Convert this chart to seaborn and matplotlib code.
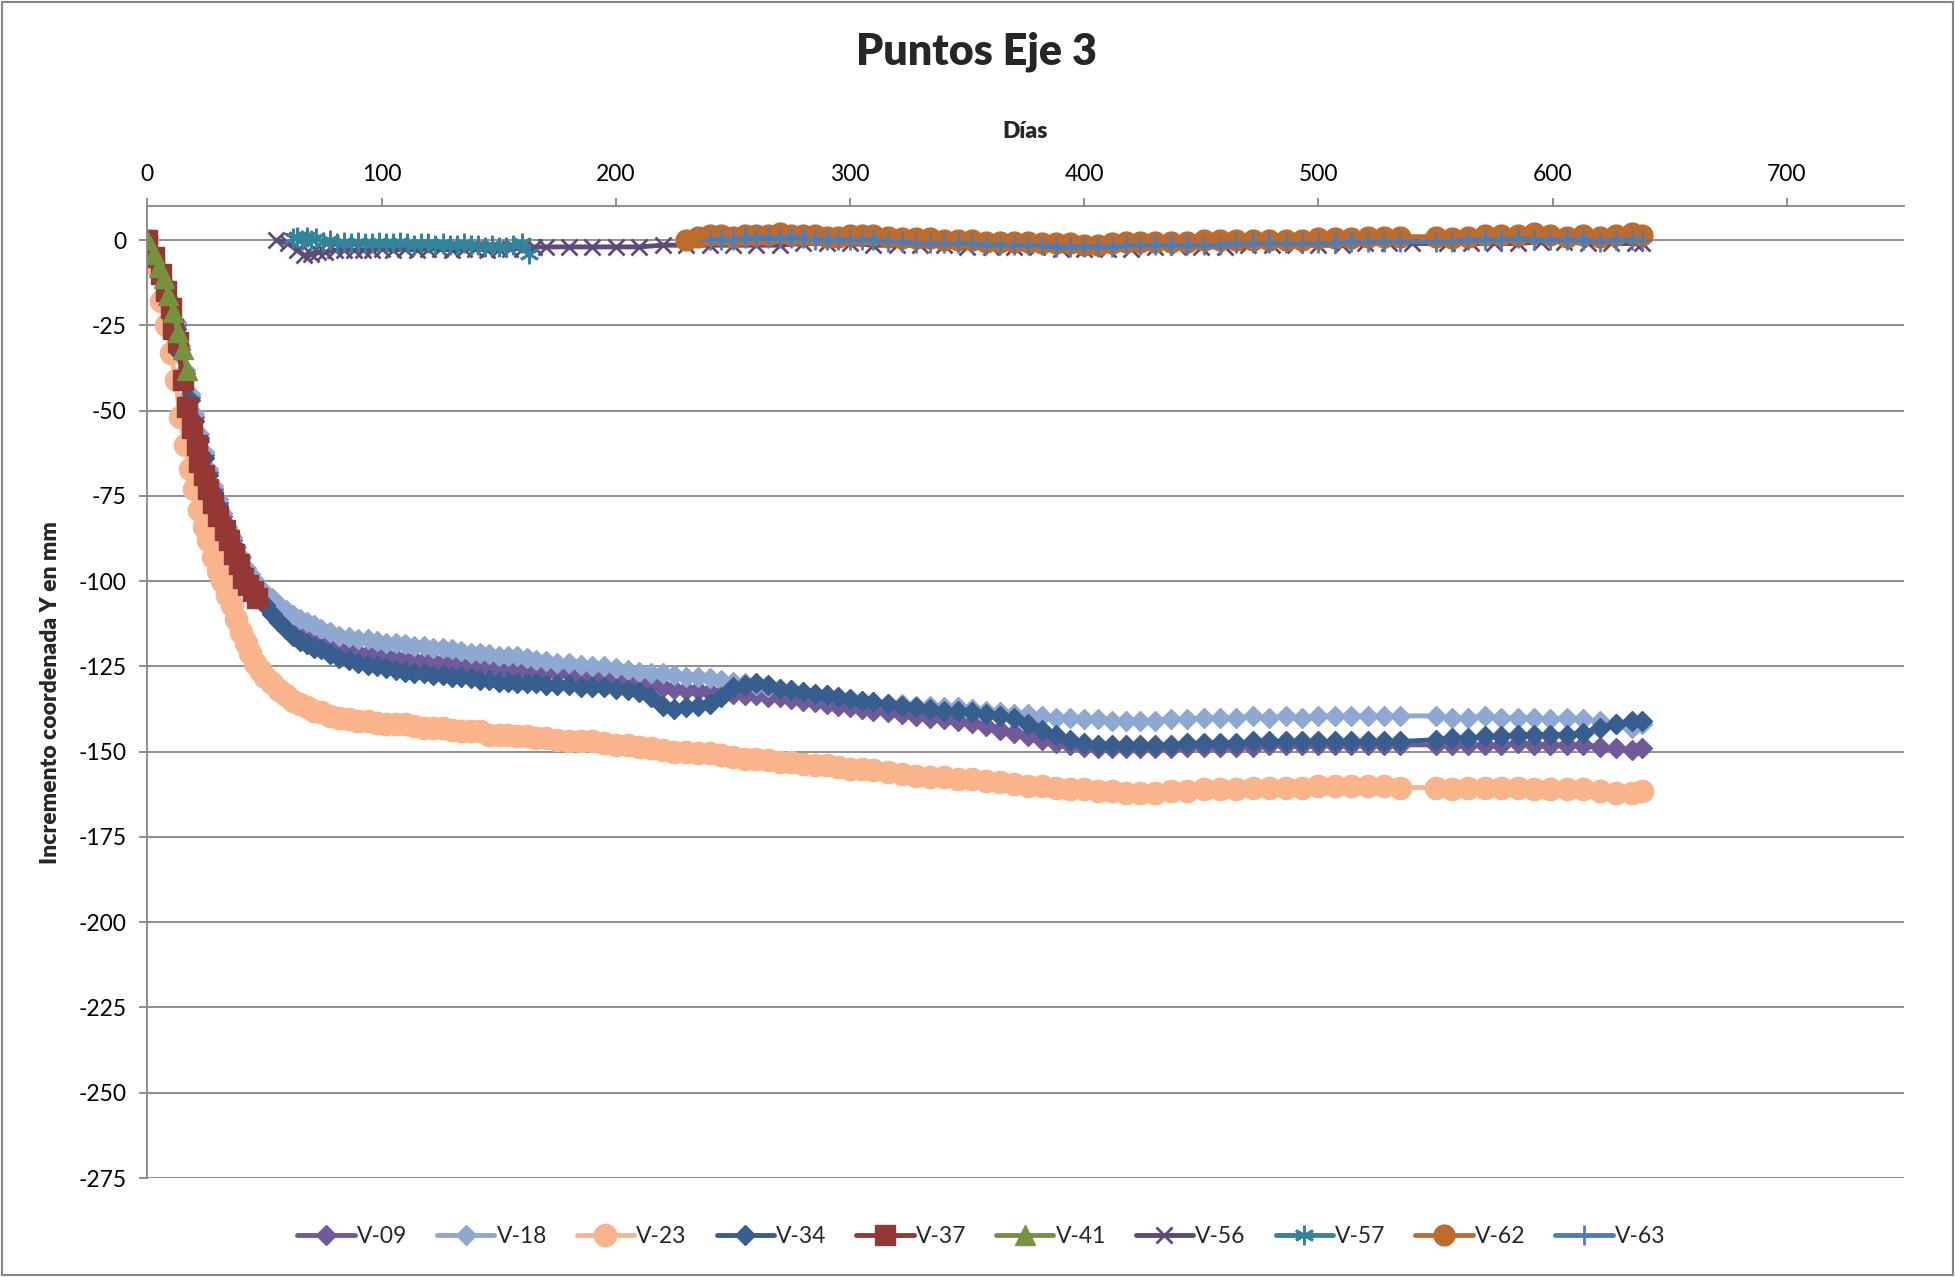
import matplotlib
matplotlib.use('Agg')
import matplotlib.pyplot as plt
from matplotlib.patches import Rectangle
import seaborn as sns

# Days of the main measurement campaign (V-09, V-18, V-23, V-34)
days_main = [0, 3, 6, 8, 10, 12, 14, 16, 18, 20, 22, 24, 26, 28, 30, 32, 34, 36, 38, 40, 42, 44, 46, 48, 50,
             53, 56, 59, 62, 65, 68, 71, 74, 78, 82, 86, 90, 94, 98,
             102, 106, 110, 114, 118, 122, 126, 130, 134, 138, 142, 146, 150,
             154, 158, 162, 166, 170,
             175, 180, 185, 190, 195, 200, 205, 210, 215, 220, 225, 230, 235, 240, 245, 250, 255, 260, 265, 270,
             275, 280, 285, 290, 295, 300, 305,
             310, 316, 322, 328, 334, 340, 346, 352, 358, 364, 370, 376, 382, 388, 394, 400, 406, 412, 418, 424, 430,
             437, 444, 451, 458, 465, 472, 479, 486, 493, 500, 507, 514, 521, 528, 535,
             550, 557, 564, 571, 578, 585, 592, 599, 606, 613, 620, 627, 634, 638]

v09 = [0, -4, -10, -14, -19, -25, -32, -39, -46, -52, -58, -63, -68, -73, -77, -81, -85, -88, -92, -95, -98, -100, -102, -104.5, -106,
       -108, -110.5, -112.5, -114, -115.5, -116.5, -117.5, -118, -119, -120, -120.5, -121, -121.5, -122,
       -122, -122.5, -123, -123, -123.5, -123.5, -124, -124, -124.5, -124.5, -125, -125, -125.5,
       -125.5, -126, -126, -126.5, -126.5,
       -127, -127, -127.5, -128, -128, -128.5, -129, -129.5, -130, -131, -131.5, -132, -132, -132.5, -133, -133,
       -133.5, -133.5, -134, -134, -134.5, -135, -135.5, -136, -136.5, -137, -137.5,
       -138, -138.5, -139, -139.5, -140, -140.5, -141, -141.5, -142.5, -143.5, -144.5, -145.5, -146.5, -147.5, -148,
       -148.5, -149, -149, -149, -149, -149,
       -149, -148.5, -148.5, -148.5, -148.5, -148.5, -148, -148, -148, -148, -148, -148, -148, -148, -148,
       -148, -148, -148, -148, -148, -147.5, -148, -148, -148, -148, -148.5, -149, -149.5, -149]

v18 = [0, -4, -9, -13, -18, -24, -31, -38, -45, -51, -57, -62, -67, -72, -76, -80, -84, -87, -90, -93, -96, -98, -100, -102, -103.5,
       -105, -107, -108.5, -110, -111, -112, -113, -114, -115, -116, -116.5, -117, -117, -117.5,
       -118, -118, -118.5, -119, -119, -119.5, -119.5, -120, -120.5, -121, -121, -121.5, -122,
       -122, -122, -122.5, -123, -123.5,
       -124, -124, -124.5, -125, -125, -125.5, -126, -126.5, -127, -127, -127.5, -128, -128, -128.5, -129, -129.5,
       -130, -130.5, -131, -131.5, -132, -132.5, -133, -133.5, -134, -134.5, -135,
       -135.5, -136, -136, -136.5, -136.5, -137, -137, -137.5, -138, -138.5, -139, -139, -139.5, -140, -140,
       -140.5, -140.5, -141, -141, -141, -141,
       -140.5, -140.5, -140, -140, -140, -139.5, -140, -139.5, -140, -139.5, -139.5, -139.5, -139.5, -139.5, -139.5,
       -139.5, -140, -140, -139.5, -140, -140, -140, -140.5, -140, -140.5, -141, -142, -143, -142]

v23 = [0, -7, -18, -25, -33, -41, -52, -60, -67, -73, -79, -84, -88, -93, -97, -100, -104, -107, -111, -115, -118, -121, -124, -126, -128,
       -130, -132, -133.5, -135, -136, -137, -138, -138.5, -139.5, -140, -140.5, -141, -141, -141.5,
       -142, -142, -142, -142.5, -143, -143, -143, -143.5, -144, -144, -144, -145, -145,
       -145, -145.5, -145.5, -146, -146,
       -146.5, -147, -147, -147, -147.5, -148, -148, -148.5, -149, -149.5, -150, -150, -150.5, -150.5, -151, -151.5,
       -152, -152, -152.5, -153, -153, -153.5, -154, -154, -154.5, -155, -155,
       -155.5, -156, -156.5, -157, -157.5, -157.5, -158, -158, -158.5, -159, -159.5, -160, -160, -160.5, -161,
       -161, -161.5, -161.5, -162, -162, -162,
       -161.5, -161.5, -161, -161, -161, -160.5, -160.5, -160.5, -160.5, -160, -160, -160, -160, -160, -160.5,
       -160.5, -161, -160.5, -160.5, -160.5, -160.5, -161, -161, -161, -161, -161.5, -162, -162, -161.5]

v34 = [0, -4, -10, -14, -19, -26, -33, -40, -47, -53, -59, -64, -69, -74, -78, -82, -86, -89, -93, -96, -99, -101, -103, -105.5, -107,
       -109.5, -112, -114, -116, -117.5, -118.5, -119.5, -120, -121.5, -122.5, -123, -124, -124.5, -125,
       -125.5, -126, -126.5, -127, -127, -127.5, -127.5, -128, -128, -128.5, -129, -129, -129.5,
       -129.5, -130, -130, -130, -130.5,
       -130.5, -130.5, -131, -131, -131, -131.5, -132, -132.5, -134, -136.5, -137.5, -137, -136.5, -136, -134, -131,
       -130.5, -130, -130.5, -131.5, -132, -132.5, -133, -133.5, -134, -134.5, -135,
       -135.5, -136, -136.5, -137, -137.5, -138, -138, -138.5, -139, -139.5, -140, -142, -143.5, -145, -146.5,
       -147.5, -148, -148, -148, -148, -148,
       -148, -147.5, -147.5, -147.5, -147.5, -147, -147, -147, -147, -147, -147, -147, -147, -147, -147,
       -146.5, -146, -146, -145.5, -145.5, -145, -145, -145, -145, -144.5, -143, -142, -141, -141]

days_37 = [0, 3, 6, 8, 10, 11, 13, 15, 17, 19, 21, 22, 24, 26, 28, 30, 33, 35, 37, 39, 41, 43, 45, 47]
v37 = [0, -5, -10, -15, -20, -26, -30, -41, -49, -55, -60, -65, -69, -73, -77, -81, -85, -88, -92, -95, -99, -101, -103, -105]

days_41 = [0, 3, 5, 7, 9, 11, 13, 15, 17]
v41 = [0, -4, -8, -11, -16, -21, -27, -32, -38]

days_56 = [55, 60, 64, 67, 70, 73, 76, 80, 84, 88, 92, 96, 100, 105, 110, 115, 120, 125, 130, 135,
           140, 145, 150, 155, 160, 165, 170, 180, 190, 200, 210, 220, 230, 240, 250, 260, 270, 280, 290, 300,
           310, 320, 330, 340, 350, 360, 370, 380, 390, 400, 410, 420, 430, 440, 450, 460, 470, 480, 490, 500,
           510, 520, 530, 540, 555, 565, 575, 585, 595, 605, 615, 625, 635, 638]
v56 = [0, -1, -3, -4.5, -4, -3.5, -3.5, -3, -3, -3, -3, -3, -2.5, -3, -2.5, -3, -2.5, -2.5, -3, -2.5,
       -2.5, -3, -2.5, -2.5, -2.5, -2, -2, -2, -2, -2, -2, -1.5, -1.5, -1.5, -1.5, -1.5, -1.5, -1, -1, -1,
       -1.5, -1.5, -1.5, -1.5, -2, -2, -2, -2, -2.5, -2.5, -2.5, -2.5, -2, -2, -2, -2, -1.5, -1.5, -1.5, -1.5,
       -1.5, -1, -1, -1, -1, -1, -1, -1, -0.5, -0.5, -1, -1, -1, -1]

days_57 = [62, 64, 66, 68, 70, 72, 75, 78, 81, 84, 87, 90, 93, 96, 99, 102, 105, 108, 111, 114,
           117, 120, 123, 126, 129, 132, 135, 138, 141, 144, 147, 150, 153, 156, 160, 163]
v57 = [0.5, 1, 0, 1, 0, 0.5, -0.5, 0, -1, -0.5, -1, -0.5, -1, -1, -0.5, -1, -1, -0.5, -1, -1.5,
       -1, -1, -1.5, -1, -1.5, -1.5, -1, -1.5, -1.5, -2, -1.5, -2, -2, -1.5, -1, -4]

days_62 = [230, 235, 240, 245, 250, 255, 260, 265, 270, 275, 280, 285, 290, 295, 300, 305,
           310, 316, 322, 328, 334, 340, 346, 352, 358, 364, 370, 376, 382, 388, 394, 400, 406, 412, 418, 424, 430,
           437, 444, 451, 458, 465, 472, 479, 486, 493, 500, 507, 514, 521, 528, 535,
           550, 557, 564, 571, 578, 585, 592, 599, 606, 613, 620, 627, 634, 638]
v62 = [0, 1, 1.5, 1.5, 1, 1.5, 1.5, 1.5, 2, 1.5, 1.5, 1.5, 1, 1, 1.5, 1.5,
       1.5, 1, 0.5, 0.5, 0.5, 0, 0, 0, -0.5, -0.5, -0.5, -0.5, -1, -1, -1, -1.5, -1.5, -1, -0.5, -0.5, -0.5,
       -0.5, -0.5, 0, 0, 0, 0, 0, 0, 0, 0.5, 0.5, 0.5, 1, 1, 1,
       1, 0.5, 1, 1.5, 1.5, 1.5, 2, 1.5, 1, 1.5, 1, 1.5, 2, 1.5]

days_63 = [240, 245, 250, 255, 260, 265, 270, 275, 280, 285, 290, 295, 300, 305,
           310, 316, 322, 328, 334, 340, 346, 352, 358, 364, 370, 376, 382, 388, 394, 400, 406, 412, 418, 424, 430,
           437, 444, 451, 458, 465, 472, 479, 486, 493, 500, 507, 514, 521, 528, 535,
           550, 557, 564, 571, 578, 585, 592, 599, 606, 613, 620, 627, 634, 638]
v63 = [0, 0, 0, 0.5, 0.5, 0.5, 0.5, 0.5, 0.5, 0, 0, 0, 0, 0,
       0, -0.5, -0.5, -1, -1, -1, -1, -1, -1.5, -1.5, -1.5, -1.5, -1.5, -2, -2, -2, -2, -2, -1.5, -1.5, -1.5,
       -1.5, -1.5, -1.5, -1.5, -1, -1, -1, -1, -1, -1, -1, -0.5, -0.5, -0.5, -0.5,
       -0.5, -0.5, 0, 0, 0, 0.5, 0, 0, 0, 0, -0.5, 0, 0, 0]

x_ticks = [0, 100, 200, 300, 400, 500, 600, 700]
y_ticks = [0, -25, -50, -75, -100, -125, -150, -175, -200, -225, -250, -275]

# name, x, y, colour, marker, marker size
series = [
    ('V-09', days_main, v09, '#71599a', 'D', 10.5),
    ('V-18', days_main, v18, '#8fa8d1', 'D', 10.5),
    ('V-23', days_main, v23, '#f9b48c', 'o', 16),
    ('V-34', days_main, v34, '#375e8e', 'D', 10.5),
    ('V-37', days_37, v37, '#953735', 's', 14),
    ('V-41', days_41, v41, '#76923c', '^', 14),
    ('V-56', days_56, v56, '#5f497a', 'x', 12),
    ('V-57', days_57, v57, '#31849b', (6, 2, 0), 14),
    ('V-62', days_62, v62, '#bd6c2d', 'o', 15),
    ('V-63', days_63, v63, '#4a7ebb', '+', 15),
]

sns.set_theme(style='white')
plt.rcParams['font.family'] = ['Lato', 'DejaVu Sans']
plt.rcParams['axes.unicode_minus'] = False

grey = '#868686'

fig = plt.figure(figsize=(19.55, 12.77), dpi=100)
ax = fig.add_axes([0.0754, 0.0775, 0.8985, 0.7612])

for name, xs, ys, color, marker, ms in series:
    line_marker = marker in ('x', '+') or isinstance(marker, tuple)
    sns.lineplot(x=xs, y=ys, ax=ax, color=color, lw=3.5, marker=marker, ms=ms,
                 markeredgecolor=color, markerfacecolor=color,
                 mew=2 if line_marker else 1, label=name, legend=False,
                 estimator=None, sort=False)

ax.set_xlim(0, 750)
ax.set_ylim(-275, 10)
ax.set_xticks(x_ticks)
ax.set_yticks(y_ticks)
ax.xaxis.tick_top()
ax.xaxis.set_label_position('top')
ax.tick_params(axis='both', direction='out', length=6, width=1.3, color=grey,
               labelsize=16.5, labelcolor='black', pad=9)
ax.tick_params(axis='x', top=True, bottom=False)
ax.tick_params(axis='y', left=True)
ax.yaxis.grid(True, color=grey, lw=1.3)
ax.xaxis.grid(False)
for side in ('bottom', 'right'):
    ax.spines[side].set_visible(False)
for side in ('top', 'left'):
    ax.spines[side].set_color(grey)
    ax.spines[side].set_linewidth(1.3)

fig.text(0.4994, 1 - 52 / 1277, 'Puntos Eje 3', ha='center', va='center', fontsize=31, weight='heavy')
fig.text(0.5246, 1 - 132 / 1277, 'Días', ha='center', va='center', fontsize=16.5, weight='heavy')
fig.text(0.0256, 0.458, 'Incremento coordenada Y en mm', ha='center', va='center',
         rotation=90, fontsize=16.5, weight='heavy')

handles, labels = ax.get_legend_handles_labels()
fig.legend(handles, labels, loc='center', bbox_to_anchor=(0.502, 0.032), ncol=10, frameon=False,
           fontsize=16.5, handlelength=2.5, handletextpad=0.1, columnspacing=1.3)

fig.patches.append(Rectangle((0.0008, 0.0012), 0.9984, 0.9976, transform=fig.transFigure,
                             fill=False, edgecolor=grey, lw=1.5))

fig.savefig('out.png', dpi=100)
